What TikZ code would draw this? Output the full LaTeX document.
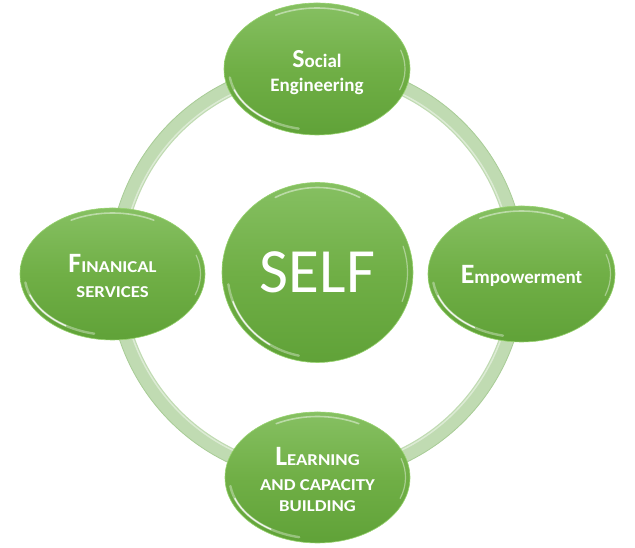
\documentclass[tikz,border=0pt]{standalone}
\usepackage{fontspec}
\setmainfont{Carlito}
\newfontfamily\scf{Carlito}[FakeStretch=1.13]
\usetikzlibrary{shapes.geometric}
\definecolor{gtop}{RGB}{134,192,98}
\definecolor{gmid}{RGB}{112,175,70}
\definecolor{gbot}{RGB}{96,162,56}
\definecolor{ringc}{RGB}{192,219,178}
\definecolor{ringd}{RGB}{168,204,150}
\definecolor{rim}{RGB}{150,210,110}
\newcommand\glints[3]{%
  \draw[glint, line width=2.4pt, opacity=.35] (#1.center) ++(188:#2 and #3) arc[start angle=188,end angle=258,x radius=#2,y radius=#3];
  \draw[glint, line width=1.3pt, opacity=.85] (#1.center) ++(200:#2 and #3) arc[start angle=200,end angle=238,x radius=#2,y radius=#3];
  \draw[glint, line width=1.6pt, opacity=.45] (#1.center) ++(62:#2 and #3) arc[start angle=62,end angle=118,x radius=#2,y radius=#3];
  \draw[glint, line width=1.2pt, opacity=.4] (#1.center) ++(-20:#2 and #3) arc[start angle=-20,end angle=18,x radius=#2,y radius=#3];
}
\begin{document}
\begin{tikzpicture}[x=1pt,y=1pt,
  bub/.style={ellipse,inner sep=0pt,top color=gtop,bottom color=gbot,middle color=gmid,
    draw=rim,line width=0.6pt},
  txt/.style={text=white,align=center,inner sep=0pt},
  glint/.style={white,line cap=round}]
\useasboundingbox (0,0) rectangle (635,548);
\coordinate (o) at (317,276);
% ring
\draw[ringc, line width=15pt] (o) ellipse[x radius=201,y radius=203];
\draw[ringd, line width=0.8pt] (o) ellipse[x radius=208.5,y radius=210.5];
\draw[white, opacity=.45, line width=1.5pt] (o) ellipse[x radius=195.5,y radius=197.5];
% bubbles
\node[bub, minimum width=186pt, minimum height=132pt] (soc) at (317,479) {};
\node[bub, minimum width=185pt, minimum height=132pt] (fin) at (112.5,274) {};
\node[bub, minimum width=187pt, minimum height=136pt] (emp) at (521.5,274) {};
\node[bub, minimum width=185pt, minimum height=131pt] (lea) at (317.5,70.5) {};
\node[bub, minimum width=191pt, minimum height=180pt] (self) at (317.5,275.5) {};
\glints{soc}{88}{61}
\glints{fin}{88}{61}
\glints{emp}{89}{63}
\glints{lea}{88}{61}
\glints{self}{90}{85}
% texts
\node[txt, font=\bfseries\fontsize{19}{24}\selectfont] (soct) at ([yshift=-4pt]soc.center)
  {{\fontsize{26}{24}\selectfont S}ocial\\Engineering};
\node[txt, font=\bfseries\scf\fontsize{16.6}{25}\selectfont] (fint) at ([yshift=-2pt]fin.center)
  {{\fontspec{Carlito}\bfseries\fontsize{28}{25}\selectfont F}INANICAL\\SERVICES};
\node[txt, font=\bfseries\fontsize{19}{24}\selectfont] (empt) at ([yshift=-2pt]emp.center)
  {{\fontsize{28}{24}\selectfont E}mpowerment};
\node[txt, font=\bfseries\scf\fontsize{16.6}{21}\selectfont] (leat) at ([yshift=-2pt]lea.center)
  {{\fontspec{Carlito}\bfseries\fontsize{28}{21}\selectfont L}EARNING\\[4pt]AND CAPACITY\\BUILDING};
\node[txt, font=\fontsize{63}{63}\selectfont] (selft) at (self.center) {SELF};
\end{tikzpicture}
\end{document}
